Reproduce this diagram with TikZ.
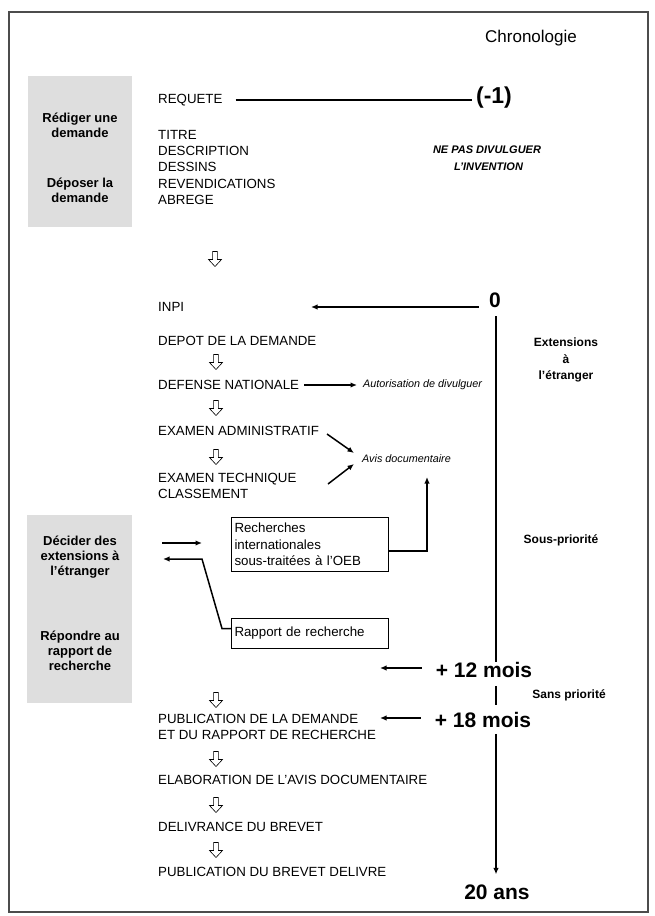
\documentclass[tikz,border=0pt]{standalone}
\usepackage{fontspec}
\setmainfont{Liberation Sans}
\usetikzlibrary{arrows.meta}
\begin{document}
\begin{tikzpicture}[x=1pt,y=-1pt,
  txt/.style={anchor=west,inner sep=0pt,font=\fontsize{13.3}{16}\selectfont},
  boxtxt/.style={draw,line width=1pt,anchor=north west,inner xsep=2.5pt,inner ysep=3pt,align=left,font=\fontsize{13.3}{16.5}\selectfont},
  side/.style={inner sep=0pt,align=center,font=\bfseries\fontsize{13}{15}\selectfont},
  big/.style={inner sep=0pt,font=\bfseries\fontsize{21}{24}\selectfont},
  note/.style={inner sep=0pt,anchor=west,font=\itshape\fontsize{10.8}{12}\selectfont},
  lab/.style={inner sep=0pt,align=center,font=\bfseries\fontsize{12}{16.5}\selectfont},
  arr/.style={line width=1.5pt,-{Latex[length=6.5pt,width=5.5pt]}},
  ln/.style={line width=1.6pt},
  shade/.style={fill=black!13,draw=none},
  downarr/.pic={\draw[line width=0.6pt,fill=white] (-2.4,-7.5) -- (2.4,-7.5) -- (2.4,0.5) -- (6.5,0.5) -- (0,7.5) -- (-6.5,0.5) -- (-2.4,0.5) -- cycle;}
]
\useasboundingbox (0,0) rectangle (655,916);
% frame
\draw[line width=1.5pt,black!70] (9,12) rectangle (648,912);
\node[inner sep=0pt,font=\fontsize{17}{20}\selectfont] (chrono) at (531,38) {Chronologie};

% shaded left panels
\fill[shade] (28,76) rectangle (132,227);
\fill[shade] (27,515) rectangle (132,703);
\node[side] (rediger) at (80,125) {Rédiger une\\demande};
\node[side] (deposer) at (80,190) {Déposer la\\demande};
\node[side] (decider) at (80,557) {Décider des\\extensions à\\l'étranger};
\node[side] (repondre) at (80,651) {Répondre au\\rapport de\\recherche};

% top block
\node[txt] (req) at (158,100) {REQUETE};
\node[big,font=\bfseries\fontsize{23}{26}\selectfont] (m1) at (494,98) {(-1)};
\draw[line width=1.8pt,shorten <=13pt,shorten >=4pt] (req.east) -- (req.east -| m1.west);
\node[txt] (titre) at (158,135) {TITRE};
\node[txt] (descr) at (158,151) {DESCRIPTION};
\node[txt] (dess) at (158,167) {DESSINS};
\node[txt] (revend) at (158,184) {REVENDICATIONS};
\node[txt] (abrege) at (158,200) {ABREGE};
\node[inner sep=0pt,align=center,font=\bfseries\itshape\fontsize{11}{16.5}\selectfont] (nepas) at (487,158) {NE PAS DIVULGUER\\\ L'INVENTION};
\pic at (215,259) {downarr};

% INPI and timeline
\node[txt] (inpi) at (158,307) {INPI};
\node[big] (zero) at (495,300) {0};
\coordinate (inpiend) at (311,307);
\draw[arr,shorten <=10pt] (zero.west |- inpiend) -- (inpiend);
\node[big] (m12) at (484,670) {+ 12 mois};
\node[big] (m18) at (483,720) {+ 18 mois};
\node[big] (ans) at (497,892) {20 ans};
\coordinate (tl) at (496,316);
\draw[ln] (tl) -- (tl |- m12.north);
\draw[ln,shorten <=8pt,shorten >=7pt] (tl |- m12.south) -- (tl |- m18.north);
\draw[arr,shorten <=6pt,shorten >=10pt] (tl |- m18.south) -- (tl |- ans.north);

\node[lab] (ext) at (566,360) {Extensions\\à\\l'étranger};
\node[lab] (sousp) at (561,540) {Sous-priorité};
\node[lab] (sansp) at (569,695) {Sans priorité};

% procedure
\node[txt] (depot) at (158,341) {DEPOT DE LA DEMANDE};
\pic at (216,362) {downarr};
\node[txt] (defense) at (158,385) {DEFENSE NATIONALE};
\node[note] (autor) at (363,385) {Autorisation de divulguer};
\draw[arr,shorten <=5pt,shorten >=6pt] (defense.east) -- (autor.west);
\pic at (216,408) {downarr};
\node[txt] (admin) at (158,431) {EXAMEN ADMINISTRATIF};
\node[note] (avis) at (362,459) {Avis documentaire};
\pic at (216,457) {downarr};
\node[txt,align=left,anchor=north west] (techn) at (158,473) {EXAMEN TECHNIQUE\\CLASSEMENT};
\coordinate (d1s) at (327,434);
\coordinate (d1e) at (354,453);
\coordinate (d2s) at (328,484);
\coordinate (d2e) at (354,464);
\draw[arr] (d1s) -- (d1e);
\draw[arr] (d2s) -- (d2e);

\node[boxtxt,minimum width=157pt,minimum height=54pt,text width=151pt] (rech) at (231,517) {Recherches\\internationales\\sous-traitées à l'OEB};
\node[boxtxt,minimum width=157pt,minimum height=30pt,text width=151pt] (rapp) at (231,618) {Rapport de recherche};
\draw[arr] ([yshift=21pt]rech.south east) -| (427,477);
\coordinate (g1s) at (162,543);
\draw[arr,shorten >=29pt] (g1s) -- (rech.west |- g1s);
\coordinate (g2e) at (163,559);
\draw[arr] ([yshift=5pt]rapp.west) -- ++(-9,0) -- (202,559) -- (g2e);

\coordinate (a12) at (380,668);
\draw[arr,shorten <=14pt] (m12.west |- a12) -- (a12);
\coordinate (a18) at (380,718);
\draw[arr,shorten <=14pt] (m18.west |- a18) -- (a18);

\pic at (216,700) {downarr};
\node[txt,align=left,anchor=north west] (pub) at (158,714) {PUBLICATION DE LA DEMANDE\\ET DU RAPPORT DE RECHERCHE};
\pic at (216,759) {downarr};
\node[txt] (elab) at (158,780) {ELABORATION DE L'AVIS DOCUMENTAIRE};
\pic at (216,805) {downarr};
\node[txt] (deliv) at (158,827) {DELIVRANCE DU BREVET};
\pic at (216,850) {downarr};
\node[txt] (pubb) at (158,872) {PUBLICATION DU BREVET DELIVRE};
\end{tikzpicture}
\end{document}
